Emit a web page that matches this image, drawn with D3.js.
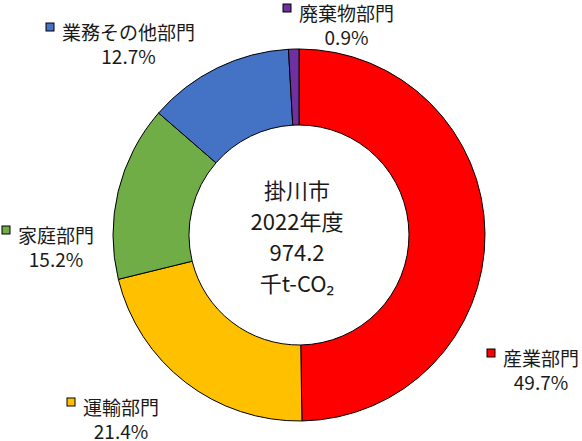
<!DOCTYPE html>
<html>
<head>
<meta charset="utf-8">
<script src="https://cdn.jsdelivr.net/npm/d3@7"></script>
<style>
  body { margin: 0; background: #fff; }
  text { font-family: "Noto Sans CJK JP", "Noto Sans", sans-serif; fill: #1a1a1a; }
</style>
</head>
<body>
<div id="chart"></div>
<script>
// 掛川市 2022年度 部門別CO2排出量
const sectors = ["産業部門", "運輸部門", "家庭部門", "業務その他部門", "廃棄物部門"];
const shares = [49.7, 21.4, 15.2, 12.7, 0.9];
const centerLines = ["掛川市", "2022年度", "974.2", "千t-CO₂"];

const sectorColors = ["#ff0000", "#ffc000", "#70ad47", "#4472c4", "#7030a0"];
// where each label sits (left edge of text, middle of first line)
const labelPos = [[503, 357], [83, 406], [18, 234], [62, 31], [299, 12]];

const w = 582, h = 441;
const cx = 299, cy = 235;
const outerR = 186, innerR = 110;

const svg = d3.select("#chart")
    .append("svg")
    .attr("width", w)
    .attr("height", h);

const pie = d3.pie().sort(null).value(d => d);
const arc = d3.arc().innerRadius(innerR).outerRadius(outerR);

const ring = svg.append("g")
    .attr("transform", `translate(${cx}, ${cy})`);

ring.selectAll("path")
    .data(pie(shares))
    .enter()
    .append("path")
    .attr("d", arc)
    .attr("fill", (d, i) => sectorColors[i])
    .attr("stroke", "#000")
    .attr("stroke-width", 1);

// center text
ring.selectAll("text.center")
    .data(centerLines)
    .enter()
    .append("text")
    .attr("class", "center")
    .attr("x", -2)
    .attr("y", (d, i) => (i - 1.5) * 31)
    .attr("text-anchor", "middle")
    .attr("dominant-baseline", "central")
    .style("font-size", "22px")
    .text(d => d);

// labels
const labels = svg.selectAll("g.label")
    .data(sectors)
    .enter()
    .append("g")
    .attr("class", "label")
    .attr("transform", (d, i) => `translate(${labelPos[i][0]}, ${labelPos[i][1]})`);

labels.append("rect")
    .attr("x", -16)
    .attr("y", -8)
    .attr("width", 8)
    .attr("height", 8)
    .attr("fill", (d, i) => sectorColors[i])
    .attr("stroke", "#000")
    .attr("stroke-width", 1);

labels.append("text")
    .attr("class", "name")
    .attr("x", 0)
    .attr("y", 0)
    .attr("dominant-baseline", "central")
    .style("font-size", "19px")
    .text(d => d);

labels.each(function(d, i) {
    const g = d3.select(this);
    const tw = g.select("text.name").node().getComputedTextLength();
    g.append("text")
        .attr("x", tw / 2)
        .attr("y", 24)
        .attr("text-anchor", "middle")
        .attr("dominant-baseline", "central")
        .style("font-size", "19px")
        .text(`${shares[i].toFixed(1)}%`);
});
</script>
</body>
</html>
